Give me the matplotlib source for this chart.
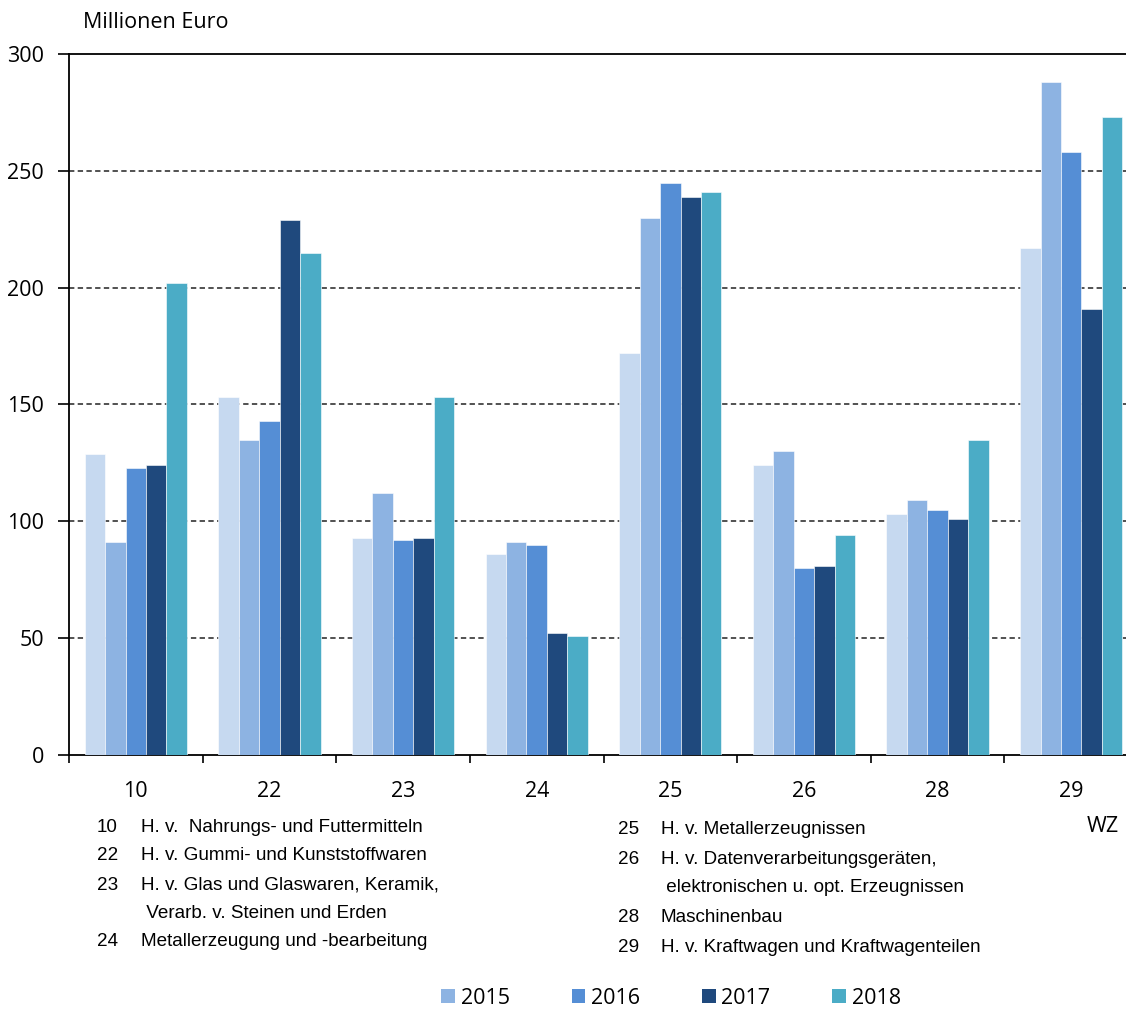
import matplotlib
matplotlib.use("Agg")
import matplotlib.pyplot as plt
import numpy as np
from matplotlib.patches import Patch

categories = ["10", "22", "23", "24", "25", "26", "28", "29"]
years = ["2014", "2015", "2016", "2017", "2018"]
v2014 = [129, 153, 93, 86, 172, 124, 103, 217]
v2015 = [91, 135, 112, 91, 230, 130, 109, 288]
v2016 = [123, 143, 92, 90, 245, 80, 105, 258]
v2017 = [124, 229, 93, 52, 239, 81, 101, 191]
v2018 = [202, 215, 153, 51, 241, 94, 135, 273]
series = [v2014, v2015, v2016, v2017, v2018]
colors = ["#C6D9F0", "#8DB3E2", "#558ED5", "#1F497D", "#4BACC6"]
legend_years = ["2015", "2016", "2017", "2018"]

desc_left = [("10", "H. v.  Nahrungs- und Futtermitteln"),
             ("22", "H. v. Gummi- und Kunststoffwaren"),
             ("23", "H. v. Glas und Glaswaren, Keramik,"),
             ("", " Verarb. v. Steinen und Erden"),
             ("24", "Metallerzeugung und -bearbeitung")]
desc_right = [("25", "H. v. Metallerzeugnissen"),
              ("26", "H. v. Datenverarbeitungsgeräten,"),
              ("", " elektronischen u. opt. Erzeugnissen"),
              ("28", "Maschinenbau"),
              ("29", "H. v. Kraftwagen und Kraftwagenteilen")]

W, H = 1126, 1009
fig = plt.figure(figsize=(W / 100, H / 100), dpi=100)
ax = fig.add_axes([69 / W, (H - 755) / H, 1069 / W, 701 / H])

axfont = "Open Sans"
fs = 15.5
x = np.arange(len(categories))
bw = 0.153
for i, (vals, c) in enumerate(zip(series, colors)):
    ax.bar(x + (i - 2) * bw, vals, bw, color=c, edgecolor="white",
           linewidth=0.4, zorder=3)

ax.set_xlim(-0.5, len(categories) - 0.5)
ax.set_ylim(0, 300)
ax.set_yticks(range(0, 301, 50))
ax.set_yticklabels([str(v) for v in range(0, 301, 50)], family=axfont, fontsize=fs)
ax.tick_params(axis="y", length=8, width=1.2, pad=10, direction="out")
ax.set_xticks(x)
ax.set_xticklabels(categories, family=axfont, fontsize=fs)
ax.set_xticks(np.arange(-0.5, len(categories), 1), minor=True)
ax.tick_params(axis="x", which="major", length=0, pad=19)
ax.tick_params(axis="x", which="minor", length=6, width=1.2, direction="out")

for v in range(50, 300, 50):
    ax.axhline(v, color="#222222", linewidth=1.1, linestyle=(0, (3.5, 2.2)), zorder=1)

ax.spines["right"].set_visible(False)
for s in ["left", "bottom", "top"]:
    ax.spines[s].set_linewidth(1.3)
    ax.spines[s].set_color("black")

fig.text(83 / W, 1 - 22 / H, "Millionen Euro", family=axfont, fontsize=fs,
         ha="left", va="center")
fig.text(1119 / W, 1 - 826 / H, "WZ", family=axfont, fontsize=fs,
         ha="right", va="center")

dfont = "Liberation Sans"
dfs = 13.6
ly = [827, 856, 885, 914, 942]
for (num, txt), y in zip(desc_left, ly):
    if num:
        fig.text(118 / W, 1 - y / H, num, family=dfont, fontsize=dfs, ha="right", va="center")
    fig.text(141 / W, 1 - y / H, txt, family=dfont, fontsize=dfs, ha="left", va="center")
ry = [830, 859, 888, 917, 947]
for (num, txt), y in zip(desc_right, ry):
    if num:
        fig.text(639 / W, 1 - y / H, num, family=dfont, fontsize=dfs, ha="right", va="center")
    fig.text(661 / W, 1 - y / H, txt, family=dfont, fontsize=dfs, ha="left", va="center")

handles = [Patch(facecolor=c, edgecolor="none") for c in colors[1:]]
fig.legend(handles, legend_years, loc="center", bbox_to_anchor=(671 / W, 1 - 998 / H),
           ncol=4, frameon=False, prop={"family": axfont, "size": fs},
           handlelength=0.65, handleheight=0.65, handletextpad=0.25, columnspacing=2.88)

fig.savefig("out.png", dpi=100)
